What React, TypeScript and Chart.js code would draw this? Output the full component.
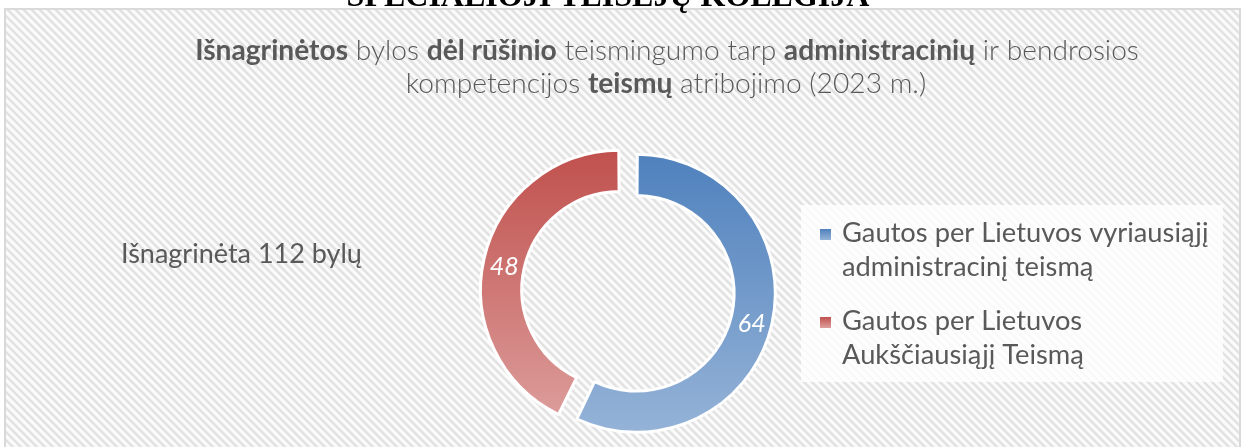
import React, { useEffect, useRef } from "react";
import { Chart, registerables } from "chart.js";

Chart.register(...registerables);

// ---- data ----
const categories = [
  "Gautos per Lietuvos vyriausiąjį\nadministracinį teismą",
  "Gautos per Lietuvos\nAukščiausiąjį Teismą",
];
const values = [64, 48];
const totalText = "Išnagrinėta 112 bylų";
const headerText = "SPECIALIOJI TEISĖJŲ KOLEGIJA";
// title runs: [text, bold]
const titleLine1: [string, boolean][] = [
  ["Išnagrinėtos", true],
  [" bylos ", false],
  ["dėl rūšinio", true],
  [" teismingumo tarp ", false],
  ["administracinių", true],
  [" ir bendrosios", false],
];
const titleLine2: [string, boolean][] = [
  ["kompetencijos ", false],
  ["teismų", true],
  [" atribojimo (2023 m.)", false],
];

// ---- styles ----
const topColors = ["#4f81bd", "#c0504d"];
const bottomColors = ["#95b3d7", "#dda09e"];
const sliceOffsets = [24, 44];
const FONT = "Lato, 'Open Sans', sans-serif";
const TEXT = "#595959";
const W = 1246;
const H = 447;

function drawRuns(ctx: CanvasRenderingContext2D, runs: [string, boolean][], cx: number, y: number, size: number) {
  const fonts = runs.map(([, b]) => (b ? `bold ${size}px ${FONT}` : `300 ${size}px ${FONT}`));
  let total = 0;
  const widths = runs.map(([t], i) => {
    ctx.font = fonts[i];
    const w = ctx.measureText(t).width;
    total += w;
    return w;
  });
  let x = cx - total / 2;
  ctx.textAlign = "left";
  ctx.textBaseline = "alphabetic";
  ctx.fillStyle = TEXT;
  runs.forEach(([t], i) => {
    ctx.font = fonts[i];
    ctx.fillText(t, x, y);
    x += widths[i];
  });
}

export default function App() {
  const ref = useRef<HTMLCanvasElement>(null);

  useEffect(() => {
    const canvas = ref.current;
    if (!canvas) return;

    const decor = {
      id: "decor",
      beforeDraw(chart: any) {
        const ctx: CanvasRenderingContext2D = chart.ctx;
        ctx.save();
        ctx.fillStyle = "#ffffff";
        ctx.fillRect(0, 0, chart.width, chart.height);

        // hatched plot box
        const bx = 5, by = 9, bw = 1235, bh = 470;
        ctx.save();
        ctx.beginPath();
        ctx.rect(bx, by, bw, bh);
        ctx.clip();
        ctx.fillStyle = "#fbfbfb";
        ctx.fillRect(bx, by, bw, bh);
        ctx.strokeStyle = "#e2e2e2";
        ctx.lineWidth = 2.6;
        ctx.beginPath();
        for (let k = -bh; k < bw + 10; k += 8) {
          ctx.moveTo(bx + k, by);
          ctx.lineTo(bx + k + bh, by + bh);
        }
        ctx.stroke();
        ctx.restore();
        ctx.strokeStyle = "#d9d9d9";
        ctx.lineWidth = 2;
        ctx.strokeRect(bx, by, bw, bh);

        // header (cut off at top)
        ctx.fillStyle = "#000000";
        ctx.font = "bold 32px 'Liberation Serif', serif";
        ctx.textAlign = "center";
        ctx.textBaseline = "alphabetic";
        ctx.fillText(headerText, 608, 6);

        // title
        drawRuns(ctx, titleLine1, 667, 60, 28.2);
        drawRuns(ctx, titleLine2, 666, 93, 28.2);

        // total text
        ctx.font = `27px ${FONT}`;
        ctx.fillStyle = TEXT;
        ctx.textAlign = "left";
        ctx.fillText(totalText, 121, 263);

        // legend
        const lx = 801, ly = 205, lw = 422, lh = 177;
        ctx.fillStyle = "rgba(255,255,255,0.78)";
        ctx.fillRect(lx, ly, lw, lh);
        const labels: string[] = chart.data.labels;
        labels.forEach((lab, i) => {
          const base = 242 + i * 88;
          const my = base - 13;
          const g = ctx.createLinearGradient(0, my, 0, my + 11);
          g.addColorStop(0, topColors[i]);
          g.addColorStop(1, bottomColors[i]);
          ctx.fillStyle = g;
          ctx.fillRect(820, my, 11, 11);
          ctx.fillStyle = TEXT;
          ctx.font = `27.3px ${FONT}`;
          ctx.textAlign = "left";
          lab.split("\n").forEach((line, j) => {
            ctx.fillText(line, 842, base + j * 34);
          });
        });
        ctx.restore();
      },
      afterDatasetsDraw(chart: any) {
        const ctx: CanvasRenderingContext2D = chart.ctx;
        const meta = chart.getDatasetMeta(0);
        ctx.save();
        ctx.font = `italic 25px ${FONT}`;
        ctx.fillStyle = "#ffffff";
        ctx.textAlign = "center";
        ctx.textBaseline = "alphabetic";
        meta.data.forEach((arc: any, i: number) => {
          const p = arc.getProps(["x", "y", "startAngle", "endAngle", "innerRadius", "outerRadius", "circumference"]);
          const off = (arc.options.offset || 0) / 4;
          const fix = 1 - Math.sin(Math.min(Math.PI, p.circumference));
          const r = (p.innerRadius + p.outerRadius) / 2 + off * fix + off;
          const a = (p.startAngle + p.endAngle) / 2;
          ctx.fillText(String(chart.data.datasets[0].data[i]), p.x + Math.cos(a) * r, p.y + Math.sin(a) * r + 12);
        });
        ctx.restore();
      },
    };

    const grad = (c: any) => {
      const chart = c.chart;
      const area = chart.chartArea;
      const i = c.dataIndex ?? 0;
      if (!area) return topColors[i];
      const cy = (area.top + area.bottom) / 2;
      const g = chart.ctx.createLinearGradient(0, cy - 140, 0, cy + 140);
      g.addColorStop(0, topColors[i]);
      g.addColorStop(1, bottomColors[i]);
      return g;
    };

    const chart = new Chart(canvas, {
      type: "doughnut",
      data: {
        labels: categories,
        datasets: [
          {
            data: values,
            backgroundColor: grad,
            borderColor: "#ffffff",
            borderWidth: 3,
            offset: (c: any) => sliceOffsets[c.dataIndex ?? 0],
          },
        ],
      },
      options: {
        responsive: false,
        animation: false,
        events: [],
        radius: 133,
        cutout: "69%",
        layout: { padding: { left: 482, right: 467, top: 150, bottom: 13 } },
        plugins: {
          legend: { display: false },
          tooltip: { enabled: false },
          title: { display: false },
        },
      } as any,
      plugins: [decor],
    });

    return () => chart.destroy();
  }, []);

  return (
    <div style={{ position: "fixed", left: 0, top: 0, width: W, height: H, background: "#fff" }}>
      <canvas ref={ref} width={W} height={H} style={{ display: "block" }} />
    </div>
  );
}
